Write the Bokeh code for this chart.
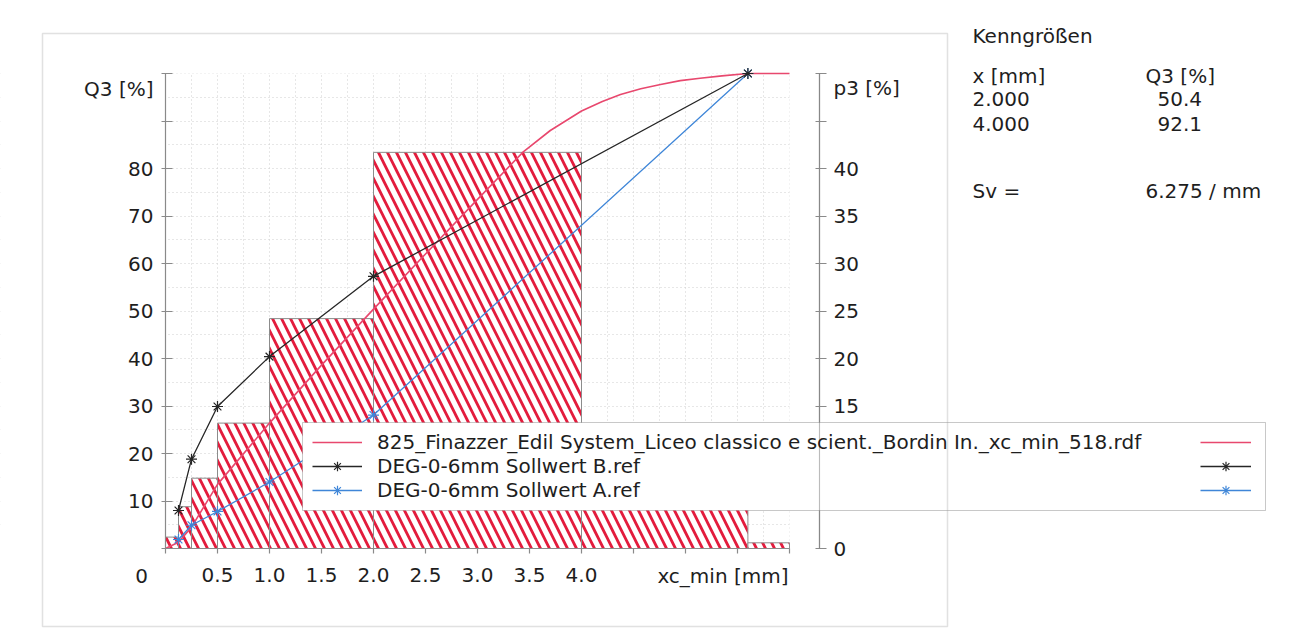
from bokeh.plotting import figure
from bokeh.models import (Range1d, LinearAxis, FixedTicker, Label, Legend,
                          LegendItem, BoxAnnotation)
from bokeh.core.properties import value
from bokeh.embed import file_html
from bokeh.resources import INLINE

# ---------------- data ----------------
BIN_LEFT = [0.0, 0.125, 0.25, 0.5, 1.0, 2.0, 4.0, 5.6]
BIN_RIGHT = [0.125, 0.25, 0.5, 1.0, 2.0, 4.0, 5.6, 6.0]
P3 = [1.2, 4.4, 7.4, 13.2, 24.2, 41.7, 7.3, 0.6]

CURVE_X = [0.0, 0.125, 0.25, 0.5, 1.0, 1.5, 2.0, 2.5, 3.0, 3.44, 3.7, 4.0,
           4.2, 4.375, 4.57, 4.76, 4.95, 5.14, 5.35, 5.6, 6.0]
CURVE_Q3 = [0.0, 1.3, 4.5, 13.5, 26.4, 38.6, 50.4, 62.0, 73.5, 83.5, 88.0,
            92.1, 94.1, 95.6, 96.8, 97.7, 98.5, 99.0, 99.5, 100.0, 100.0]

SOLL_X = [0.125, 0.25, 0.5, 1.0, 2.0, 5.6]
SOLL_B = [8.0, 18.8, 29.9, 40.4, 57.3, 100.0]
SOLL_A = [1.9, 4.9, 7.8, 14.0, 28.1, 100.0]

X_TICKS = [0.0, 0.5, 1.0, 1.5, 2.0, 2.5, 3.0, 3.5, 4.0, 4.5, 5.0, 5.5, 6.0]
X_LABELS = ["", "0.5", "1.0", "1.5", "2.0", "2.5", "3.0", "3.5", "4.0", "", "", "", ""]
Q3_TICKS = [0, 10, 20, 30, 40, 50, 60, 70, 80, 90, 100]
Q3_LABELS = ["", "10", "20", "30", "40", "50", "60", "70", "80", "", ""]
P3_TICKS = [0, 5, 10, 15, 20, 25, 30, 35, 40, 45, 50]
P3_LABELS = ["0", "5", "10", "15", "20", "25", "30", "35", "40", "", ""]
GRID_X = [0.25, 0.5, 0.75, 1.0, 1.25, 1.5, 1.75, 2.0, 2.25, 2.5, 2.75, 3.0,
          3.25, 3.5, 3.75, 4.0, 4.25, 4.5, 4.75, 5.0, 5.25, 5.5, 5.75, 6.0]
GRID_Y = [5, 10, 15, 20, 25, 30, 35, 40, 45, 50, 55, 60, 65, 70, 75, 80, 85,
          90, 95, 100]

LEGEND_LABELS = [
    "825_Finazzer_Edil System_Liceo classico e scient._Bordin In._xc_min_518.rdf",
    "DEG-0-6mm Sollwert B.ref",
    "DEG-0-6mm Sollwert A.ref",
]
KENN_TITLE = "Kenngrößen"
KENN_HEAD = ["x [mm]", "Q3 [%]"]
KENN_X = ["2.000", "4.000"]
KENN_Q3 = ["50.4", "92.1"]
SV_LABEL = ["Sv =", "6.275 / mm"]

# ---------------- layout constants (pixels) ----------------
W, H = 1300, 640
X0_PX, PX_MM = 165, 104          # screen x of 0 mm, pixels per mm
Y0_PX, PX_Q3 = 548, 4.75         # screen y (from top) of Q3 = 0, pixels per %
X_END = (819 - X0_PX) / PX_MM    # position of the right (p3) axis
X_MAX = 6.0

FONT = "DejaVu Sans"
FS = "20px"
TXT = "#1e1e1e"
AX = "#8a8a8a"
RED = "#e31c3d"

x_lo, x_hi = -X0_PX / PX_MM, (W - X0_PX) / PX_MM
q_lo, q_hi = -(H - Y0_PX) / PX_Q3, Y0_PX / PX_Q3

p = figure(width=W, height=H, output_backend="svg", toolbar_location=None,
           x_range=Range1d(x_lo, x_hi), y_range=Range1d(q_lo, q_hi),
           min_border=0)
p.outline_line_color = None
p.background_fill_color = "white"
p.border_fill_color = "white"
p.extra_y_ranges = {"p3": Range1d(q_lo / 2, q_hi / 2)}

# grid (dotted), clipped to the plotting area by white masks
p.xgrid.ticker = FixedTicker(ticks=GRID_X)
p.ygrid.ticker = FixedTicker(ticks=GRID_Y)
for g in (p.xgrid, p.ygrid):
    g.grid_line_color = "#cfcfcf"
    g.grid_line_dash = "1 3"
    g.grid_line_width = 1
mask = dict(fill_color="white", fill_alpha=1.0, line_color=None, level="underlay")
p.add_layout(BoxAnnotation(right=0, **mask))
p.add_layout(BoxAnnotation(left=X_MAX, **mask))
p.add_layout(BoxAnnotation(bottom=100, **mask))
p.add_layout(BoxAnnotation(top=0, **mask))

# histogram bars (p3, right axis)
p.quad(left=BIN_LEFT, right=BIN_RIGHT, bottom=0, top=P3, y_range_name="p3",
       fill_color="white", hatch_pattern="\\", hatch_color=RED,
       hatch_weight=2.8, hatch_scale=18, line_color="#8c8c8c", line_width=1)

# curves
red = p.line(CURVE_X, CURVE_Q3, line_color="#e8486e", line_width=1.6)
blu_l = p.line(SOLL_X, SOLL_A, line_color="#3f86d8", line_width=1.3)
blu_s = p.scatter(SOLL_X, SOLL_A, marker="asterisk", size=11,
                  line_color="#3f86d8", line_width=1.2)
blk_l = p.line(SOLL_X, SOLL_B, line_color="#262626", line_width=1.3)
blk_s = p.scatter(SOLL_X, SOLL_B, marker="asterisk", size=11,
                  line_color="#262626", line_width=1.2)

# axes
def style_axis(ax, ticks, labels):
    ax.ticker = FixedTicker(ticks=ticks)
    ax.major_label_overrides = {t: l for t, l in zip(ticks, labels)}
    ax.axis_line_color = AX
    ax.axis_line_width = 1.2
    ax.major_tick_line_color = AX
    ax.major_tick_line_width = 1.2
    ax.minor_tick_line_color = None
    ax.major_label_text_font = FONT
    ax.major_label_text_font_size = FS
    ax.major_label_text_color = TXT

xa = p.xaxis[0]
style_axis(xa, X_TICKS, X_LABELS)
xa.fixed_location = 0
xa.major_tick_in = 0
xa.major_tick_out = 5
xa.major_label_standoff = 14
xa.bounds = (0, X_MAX)

ya = p.yaxis[0]
style_axis(ya, Q3_TICKS, Q3_LABELS)
ya.fixed_location = 0
ya.major_tick_in = 7
ya.major_tick_out = 4
ya.major_label_standoff = 8
ya.bounds = (0, 100)

ra = LinearAxis(y_range_name="p3")
style_axis(ra, P3_TICKS, P3_LABELS)
ra.fixed_location = X_END
ra.major_tick_in = 4
ra.major_tick_out = 7
ra.major_label_standoff = 7
ra.bounds = (0, 50)
p.add_layout(ra, "right")

# texts (screen units: from the canvas' bottom-left corner)
def lab(x, y_top, t, align="left"):
    p.add_layout(Label(x=x, y=H - y_top, x_units="screen", y_units="screen",
                       text=t, text_font=FONT, text_font_size=FS,
                       text_color=TXT, text_align=align,
                       text_baseline="middle"))

lab(153, 88, "Q3 [%]", "right")
lab(833, 87, "p3 [%]")
lab(141, 575, "0", "center")
lab(788, 575, "xc_min [mm]", "right")

lab(972, 35, KENN_TITLE)
lab(972, 75, KENN_HEAD[0])
lab(1145, 75, KENN_HEAD[1])
for i, (a, b) in enumerate(zip(KENN_X, KENN_Q3)):
    lab(972, 98 + 25 * i, a)
    lab(1157, 98 + 25 * i, b)
lab(972, 190, SV_LABEL[0])
lab(1145, 190, SV_LABEL[1])

# legend box
p.add_layout(BoxAnnotation(left=302, right=1265, top=H - 422, bottom=H - 510,
                           left_units="screen", right_units="screen",
                           top_units="screen", bottom_units="screen",
                           fill_color="white", fill_alpha=1.0,
                           line_color="#4a4a4a", line_width=1))

common = dict(orientation="vertical", padding=0, margin=0, spacing=0,
              glyph_height=24, label_height=24, background_fill_alpha=0,
              border_line_color=None, label_text_font=FONT,
              label_text_font_size=FS, label_text_color=TXT)
leg1 = Legend(items=[LegendItem(label=LEGEND_LABELS[0], renderers=[red]),
                     LegendItem(label=LEGEND_LABELS[1], renderers=[blk_l, blk_s]),
                     LegendItem(label=LEGEND_LABELS[2], renderers=[blu_l, blu_s])],
              location=(312, H - 502), glyph_width=50, label_standoff=15, **common)
p.add_layout(leg1)
leg2 = Legend(items=[LegendItem(label=value(" "), renderers=[red]),
                     LegendItem(label=value(" "), renderers=[blk_l, blk_s]),
                     LegendItem(label=value(" "), renderers=[blu_l, blu_s])],
              location=(1200, H - 502), glyph_width=51, label_standoff=0, **common)
p.add_layout(leg2)

# lines that lie on top of the legend in the reference (same level, added later)
p.add_layout(BoxAnnotation(left=X_END - 0.002, right=X_END + 0.002,
                           bottom=0, top=100, fill_color=AX, fill_alpha=1.0,
                           line_color=AX, line_width=0.6))
p.add_layout(BoxAnnotation(left=42, right=947, top=H - 33, bottom=H - 626,
                           left_units="screen", right_units="screen",
                           top_units="screen", bottom_units="screen",
                           fill_alpha=0, line_color="#9a9a9a", line_width=1.5))

open("out.html", "w").write(file_html(p, INLINE))
